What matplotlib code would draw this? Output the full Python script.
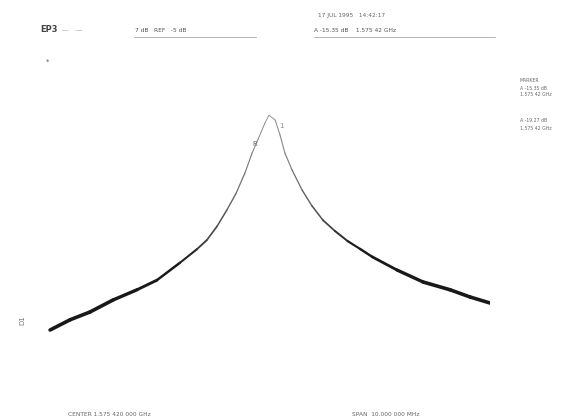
import numpy as np
import matplotlib.pyplot as plt
from matplotlib.collections import LineCollection

# trace: offset from centre (MHz) and level (dBm)
center_mhz = 1575.42
offset_mhz = [-4.93, -4.48, -4.03, -3.51, -2.97, -2.52, -2.00, -1.61, -1.39, -1.16,
              -0.94, -0.73, -0.53, -0.37, -0.24, -0.08, 0.01, 0.15, 0.26, 0.37,
              0.53, 0.76, 0.98, 1.23, 1.50, 1.79, 2.07, 2.34, 2.90, 3.49,
              4.10, 4.55, 5.00]
level_dbm = [-55.0, -53.3, -52.0, -50.0, -48.3, -46.7, -43.8, -41.5, -40.0, -37.7,
             -35.0, -32.2, -28.8, -25.5, -23.3, -20.5, -19.2, -20.0, -22.5, -25.5,
             -28.3, -31.7, -34.3, -36.7, -38.5, -40.2, -41.5, -42.8, -45.0, -47.0,
             -48.3, -49.5, -50.5]

ref_level = -10.0
db_per_div = 5.0
span_mhz = 10.0

header_ref = "7 dB   REF   -5 dB"
header_date = "17 JUL 1995   14:42:17"
header_mkr = "A -15.35 dB    1.575 42 GHz"
side_text = ["MARKER", "A -15.35 dB", "1.575 42 GHz", "A -19.27 dB", "1.575 42 GHz"]
footer_center = "CENTER 1.575 420 000 GHz"
footer_span = "SPAN  10.000 000 MHz"

fig = plt.figure(figsize=(5.81, 4.2), dpi=100)
ax = fig.add_axes([47 / 581, 1 - 360 / 420, 443 / 581, 300 / 420])
ax.set_xlim(-span_mhz / 2, span_mhz / 2)
ax.set_ylim(ref_level - 10 * db_per_div, ref_level)
ax.axis("off")

# heavier, darker pen on the noisy tails, thin grey near the peak
x = np.array(offset_mhz)
y = np.array(level_dbm)
segs = np.stack([np.column_stack([x[:-1], y[:-1]]), np.column_stack([x[1:], y[1:]])], axis=1)
mid = np.abs((x[:-1] + x[1:]) / 2)
k = np.clip(mid / 3.5, 0, 1)
widths = 0.7 + 1.9 * k ** 1.3
colors = [str(g) for g in 0.6 - 0.5 * np.clip(mid / 2.0, 0, 1)]
lc = LineCollection(segs, linewidths=widths, colors=colors, capstyle="round", joinstyle="round")
ax.add_collection(lc)

# marker tags beside the peak
ax.text(-0.3, -24.0, "R", fontsize=5, color="#666666", ha="center", va="center")
ax.text(0.3, -21.0, "1", fontsize=5, color="#888888", ha="center", va="center")

tc = "#666666"
fs = 4.2
fig.text(40 / 581, 1 - 30 / 420, "EP3", fontsize=6, color="#444444", va="center", fontweight="bold")
fig.text(62 / 581, 1 - 30 / 420, "---    ---", fontsize=fs, color=tc, va="center")
fig.text(135 / 581, 1 - 30 / 420, header_ref, fontsize=fs, color="#555555", va="center")
fig.add_artist(plt.Line2D([134 / 581, 256 / 581], [1 - 37 / 420] * 2, color="#aaaaaa", lw=0.6))
fig.text(318 / 581, 1 - 16 / 420, header_date, fontsize=fs, color=tc, va="center")
fig.text(314 / 581, 1 - 30 / 420, header_mkr, fontsize=fs, color="#555555", va="center")
fig.add_artist(plt.Line2D([314 / 581, 495 / 581], [1 - 37 / 420] * 2, color="#aaaaaa", lw=0.6))
fig.text(48 / 581, 1 - 62 / 420, "*", fontsize=5, color="#555555", ha="center", va="center")
fig.text(22 / 581, 1 - 320 / 420, "D1", fontsize=5, color="#777777", ha="center", va="center", rotation=90)

side_y = [80, 88, 95, 120, 128]
for t, yy in zip(side_text, side_y):
    fig.text(520 / 581, 1 - yy / 420, t, fontsize=3.3, color=tc, va="center")

fig.text(68 / 581, 1 - 414 / 420, footer_center, fontsize=fs, color=tc, va="center")
fig.text(352 / 581, 1 - 414 / 420, footer_span, fontsize=fs, color=tc, va="center")

fig.savefig("out.png", dpi=100, facecolor="white")
